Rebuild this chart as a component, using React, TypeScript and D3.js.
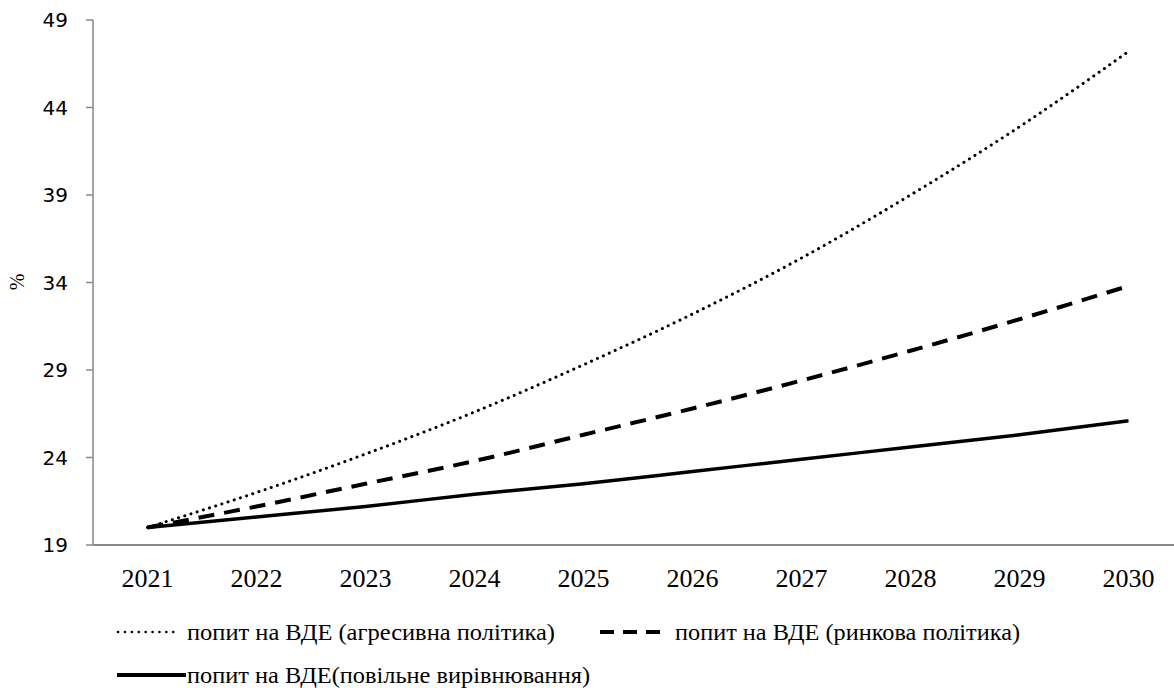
import React from "react";
import * as d3 from "d3";

const years = ["2021", "2022", "2023", "2024", "2025", "2026", "2027", "2028", "2029", "2030"];
const aggressive = [20, 22, 24.2, 26.6, 29.3, 32.2, 35.4, 39.0, 42.9, 47.2];
const market = [20, 21.2, 22.5, 23.8, 25.3, 26.8, 28.4, 30.1, 31.9, 33.8];
const slow = [20, 20.6, 21.2, 21.9, 22.5, 23.2, 23.9, 24.6, 25.3, 26.1];
const yTicks = [19, 24, 29, 34, 39, 44, 49];
const legendLabels = [
  "попит на ВДЕ (агресивна політика)",
  "попит на ВДЕ (ринкова політика)",
  "попит на ВДЕ(повільне вирівнювання)",
];

const W = 1174;
const H = 688;
const SERIF = '"Liberation Serif"';
const SANS = '"DejaVu Sans"';

export default function App() {
  const x = d3.scaleBand<string>().domain(years).range([93, 1183]);
  const y = d3.scaleLinear().domain([19, 49]).range([545, 20]);
  const cx = (i: number) => (x(years[i]) as number) + x.bandwidth() / 2;
  const line = d3
    .line<number>()
    .x((_, i) => cx(i))
    .y((d) => y(d))
    .curve(d3.curveMonotoneX);

  const series = [
    { data: aggressive, dash: "0.1 6.4", width: 3, cap: "round" as const },
    { data: market, dash: "16 10", width: 4, cap: "butt" as const },
    { data: slow, dash: undefined, width: 3.5, cap: "butt" as const },
  ];

  const serif = (size: number) => ({ fontFamily: SERIF, fontSize: size });

  return (
    <svg
      width={W}
      height={H}
      style={{ position: "absolute", left: 0, top: 0, background: "#fff" }}
    >
      <line x1={93} x2={1183} y1={545} y2={545} stroke="#888" strokeWidth={2} />
      <line x1={93} x2={93} y1={20} y2={545} stroke="#888" strokeWidth={1.5} />
      {yTicks.map((t) => (
        <g key={t}>
          <line x1={86} x2={93} y1={y(t)} y2={y(t)} stroke="#888" strokeWidth={1.5} />
          <text
            x={68}
            y={y(t)}
            dy="0.36em"
            textAnchor="end"
            style={{ fontFamily: SANS, fontSize: 20 }}
            fill="#000"
          >
            {t}
          </text>
        </g>
      ))}
      {years.map((yr, i) => (
        <text key={yr} x={cx(i)} y={587} textAnchor="middle" style={serif(26)} fill="#000">
          {yr}
        </text>
      ))}
      <text transform="translate(24,282) rotate(-90)" textAnchor="middle" style={serif(20)}>
        %
      </text>

      {series.map((s, k) => (
        <path
          key={k}
          d={line(s.data) || ""}
          fill="none"
          stroke="#000"
          strokeWidth={s.width}
          strokeDasharray={s.dash}
          strokeLinecap={s.cap}
        />
      ))}

      <line x1={118} x2={180} y1={632} y2={632} stroke="#000" strokeWidth={2.5} strokeDasharray="0.1 6.8" strokeLinecap="round" />
      <text x={187} y={640} style={serif(23)} textLength={368} lengthAdjust="spacingAndGlyphs">
        {legendLabels[0]}
      </text>
      <line x1={600} x2={668} y1={632} y2={632} stroke="#000" strokeWidth={4} strokeDasharray="14 9" />
      <text x={675} y={640} style={serif(23)} textLength={345} lengthAdjust="spacingAndGlyphs">
        {legendLabels[1]}
      </text>
      <line x1={117} x2={186} y1={675} y2={675} stroke="#000" strokeWidth={4} />
      <text x={187} y={683} style={serif(23)} textLength={403} lengthAdjust="spacingAndGlyphs">
        {legendLabels[2]}
      </text>
    </svg>
  );
}
